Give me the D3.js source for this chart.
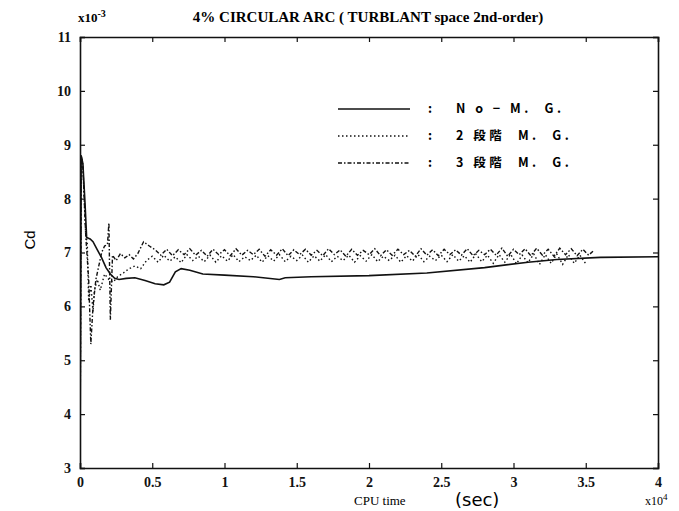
<!DOCTYPE html>
<html>
<head>
<meta charset="utf-8">
<script src="https://cdn.jsdelivr.net/npm/d3@7"></script>
<style>
    body { margin: 0; background: #fff; }
    svg { display: block; }
    .tick-label { font-family: "Liberation Serif", serif; font-weight: bold; font-size: 14px; }
    .legend-text { font-family: "Noto Sans CJK JP", sans-serif; font-weight: bold; font-size: 12.5px; white-space: pre; }
</style>
</head>
<body>
<div class="charts-div"></div>
<script>
// ---- data (Cd in x10^-3, CPU time in x10^4 sec) ----
const xTicks = [0, 0.5, 1, 1.5, 2, 2.5, 3, 3.5, 4];
const yTicks = [3, 4, 5, 6, 7, 8, 9, 10, 11];
const xTickLabels = ["0", "0.5", "1", "1.5", "2", "2.5", "3", "3.5", "4"];

const seriesNames = ["N o \u2212 M.  G.", "2 段階  M.  G.", "3 段階  M.  G."];

// No-M.G. (solid)
const noMgTime = [0, 0.008, 0.02, 0.035, 0.046, 0.07, 0.09, 0.12, 0.15, 0.18, 0.21, 0.24, 0.27, 0.32, 0.38, 0.45, 0.52, 0.58, 0.62, 0.66, 0.7, 0.76, 0.85, 1.0, 1.2, 1.38, 1.42, 1.6, 2.0, 2.4, 2.8, 3.1, 3.3, 3.6, 4.0];
const noMgCd = [3.0, 8.8, 8.65, 7.9, 7.28, 7.25, 7.2, 7.05, 6.9, 6.72, 6.6, 6.52, 6.5, 6.52, 6.53, 6.48, 6.42, 6.4, 6.45, 6.64, 6.7, 6.67, 6.6, 6.58, 6.55, 6.5, 6.53, 6.55, 6.57, 6.62, 6.72, 6.82, 6.87, 6.91, 6.92];

// 2段階 M.G. (dotted): start-up part, then the oscillating part
const mg2HeadTime = [0, 0.008, 0.02, 0.04, 0.05, 0.06, 0.075, 0.09, 0.1, 0.12, 0.14, 0.17, 0.2, 0.23, 0.26, 0.3, 0.34, 0.38, 0.42, 0.46];
const mg2HeadCd = [3.0, 8.8, 8.6, 7.3, 7.2, 6.1, 6.4, 5.9, 6.3, 6.5, 6.3, 6.6, 6.5, 6.45, 6.55, 6.62, 6.7, 6.75, 6.7, 6.85];
const mg2TailStart = 0.5;
const mg2TailCd = [
    6.93, 6.82, 6.95, 6.84, 6.92, 6.81, 6.96, 6.85, 6.93, 6.83,
    6.95, 6.82, 6.94, 6.84, 6.96, 6.83, 6.92, 6.85, 6.95, 6.82,
    6.94, 6.84, 6.96, 6.83, 6.93, 6.85, 6.95, 6.82, 6.94, 6.84,
    6.96, 6.83, 6.93, 6.85, 6.95, 6.82, 6.94, 6.84, 6.96, 6.83,
    6.93, 6.85, 6.95, 6.82, 6.94, 6.84, 6.96, 6.83, 6.93, 6.85,
    6.95, 6.83, 6.96, 6.84, 6.94, 6.82, 6.97, 6.83, 6.95, 6.80,
    6.96, 6.82, 6.97, 6.79, 6.95, 6.81, 6.97, 6.78, 6.96, 6.80,
    6.97, 6.78, 6.96, 6.80, 6.95, 6.79
];

// 3段階 M.G. (dash-dot)
const mg3HeadTime = [0, 0.008, 0.02, 0.04, 0.06, 0.075, 0.09, 0.11, 0.13, 0.15, 0.17, 0.19, 0.2, 0.21, 0.225, 0.25, 0.28, 0.31, 0.34, 0.37, 0.4, 0.44, 0.48, 0.52, 0.56];
const mg3HeadCd = [3.0, 8.8, 8.6, 7.3, 6.5, 5.3, 6.0, 6.5, 6.75, 7.0, 7.12, 7.15, 7.55, 5.75, 6.95, 6.85, 6.98, 6.9, 6.96, 6.88, 6.98, 7.2, 7.12, 7.05, 6.95];
const mg3TailStart = 0.6;
const mg3TailCd = [
    7.06, 6.94, 7.05, 6.96, 7.07, 6.95, 7.04, 6.93, 7.06, 6.96,
    7.05, 6.94, 7.07, 6.95, 7.04, 6.96, 7.06, 6.93, 7.05, 6.95,
    7.07, 6.94, 7.05, 6.96, 7.06, 6.95, 7.04, 6.94, 7.07, 6.96,
    7.05, 6.93, 7.06, 6.95, 7.04, 6.96, 7.07, 6.94, 7.05, 6.95,
    7.06, 6.96, 7.04, 6.93, 7.07, 6.95, 7.05, 6.94, 7.06, 6.96,
    7.05, 6.95, 7.07, 6.94, 7.04, 6.96, 7.06, 6.95, 7.08, 6.93,
    7.06, 6.96, 7.07, 6.94, 7.08, 6.95, 7.06, 6.93, 7.08, 6.96,
    7.07, 6.94, 7.06, 6.95, 7.05
];
const tailStep = 0.04;

// ---- chart config ----
const width = 679;
const height = 511;
const margins = { top: 37, right: 21, bottom: 43, left: 80 };

const svg = d3.select(".charts-div").append("svg")
    .attr("width", width)
    .attr("height", height);

const xScale = d3.scaleLinear().domain([0, 4]).range([margins.left, width - margins.right]);
const yScale = d3.scaleLinear().domain([3, 11]).range([height - margins.bottom, margins.top]);

const toPoints = (times, values) => times.map((t, i) => [t, values[i]]);
const tailPoints = (start, values) => values.map((v, i) => [start + i * tailStep, v]);

const series = [
    { points: toPoints(noMgTime, noMgCd), dash: null, width: 1.6 },
    { points: toPoints(mg2HeadTime, mg2HeadCd).concat(tailPoints(mg2TailStart, mg2TailCd)), dash: "1.5,2.5", width: 1.4 },
    { points: toPoints(mg3HeadTime, mg3HeadCd).concat(tailPoints(mg3TailStart, mg3TailCd)), dash: "4,2,1.5,2", width: 1.4 }
];

const line = d3.line().x((d) => xScale(d[0])).y((d) => yScale(d[1]));

svg.append("clipPath").attr("id", "plot-clip")
    .append("rect")
    .attr("x", margins.left).attr("y", margins.top)
    .attr("width", width - margins.left - margins.right)
    .attr("height", height - margins.top - margins.bottom);

const plot = svg.append("g").attr("clip-path", "url(#plot-clip)");
series.forEach((s) => {
    plot.append("path")
        .datum(s.points)
        .attr("class", "visualPlotting")
        .attr("d", line)
        .attr("fill", "none")
        .attr("stroke", "#111")
        .attr("stroke-width", s.width)
        .attr("stroke-dasharray", s.dash);
});

// axes (ticks inside, on all four sides)
const bottomY = height - margins.bottom;
const rightX = width - margins.right;

svg.append("g").attr("transform", `translate(0,${bottomY})`)
    .call(d3.axisBottom(xScale).tickValues(xTicks).tickSize(-5).tickPadding(9).tickFormat((d, i) => xTickLabels[i]));
svg.append("g").attr("transform", `translate(0,${margins.top})`)
    .call(d3.axisTop(xScale).tickValues(xTicks).tickSize(-5).tickFormat(""));
svg.append("g").attr("transform", `translate(${margins.left},0)`)
    .call(d3.axisLeft(yScale).tickValues(yTicks).tickSize(-5).tickPadding(9));
svg.append("g").attr("transform", `translate(${rightX},0)`)
    .call(d3.axisRight(yScale).tickValues(yTicks).tickSize(-5).tickFormat(""));

svg.selectAll(".domain").attr("stroke", "#111").attr("stroke-width", 1.6);
svg.selectAll(".tick line").attr("stroke", "#111").attr("stroke-width", 1.2);
svg.selectAll(".tick text").attr("class", "tick-label").attr("fill", "#111");

// titles
svg.append("text")
    .attr("x", 368).attr("y", 22)
    .attr("text-anchor", "middle")
    .style("font-family", "Liberation Serif, serif").style("font-weight", "bold").style("font-size", "15px")
    .text("4% CIRCULAR ARC ( TURBLANT space 2nd-order)");

const expY = svg.append("text").attr("x", 78).attr("y", 22)
    .style("font-family", "Liberation Serif, serif").style("font-weight", "bold").style("font-size", "13px");
expY.append("tspan").text("x10");
expY.append("tspan").attr("dy", -5).style("font-size", "10px").text("-3");

svg.append("text")
    .attr("transform", "translate(35,240) rotate(-90)")
    .attr("text-anchor", "middle")
    .style("font-family", "Liberation Sans, sans-serif").style("font-size", "15px")
    .text("Cd");

svg.append("text").attr("x", 354).attr("y", 505)
    .style("font-family", "Liberation Serif, serif").style("font-size", "13px")
    .text("CPU time");
svg.append("text").attr("x", 455).attr("y", 506)
    .style("font-family", "DejaVu Sans, sans-serif").style("font-size", "18px")
    .text("(sec)");
const expX = svg.append("text").attr("x", 645).attr("y", 505)
    .style("font-family", "Liberation Serif, serif").style("font-size", "12px");
expX.append("tspan").text("x10");
expX.append("tspan").attr("dy", -5).style("font-size", "9px").text("4");

// legend
const legendRows = [109, 136, 163];
const legend = svg.append("g").attr("class", "legend");
series.forEach((s, i) => {
    const y = legendRows[i];
    legend.append("line")
        .attr("x1", 338).attr("x2", 410).attr("y1", y).attr("y2", y)
        .attr("stroke", "#111").attr("stroke-width", s.width)
        .attr("stroke-dasharray", s.dash);
    legend.append("text").attr("class", "legend-text")
        .attr("x", 428).attr("y", y + 4).text(":");
    legend.append("text").attr("class", "legend-text")
        .attr("x", 456).attr("y", y + 4).style("letter-spacing", "3.5px")
        .text(seriesNames[i]);
});
</script>
</body>
</html>
